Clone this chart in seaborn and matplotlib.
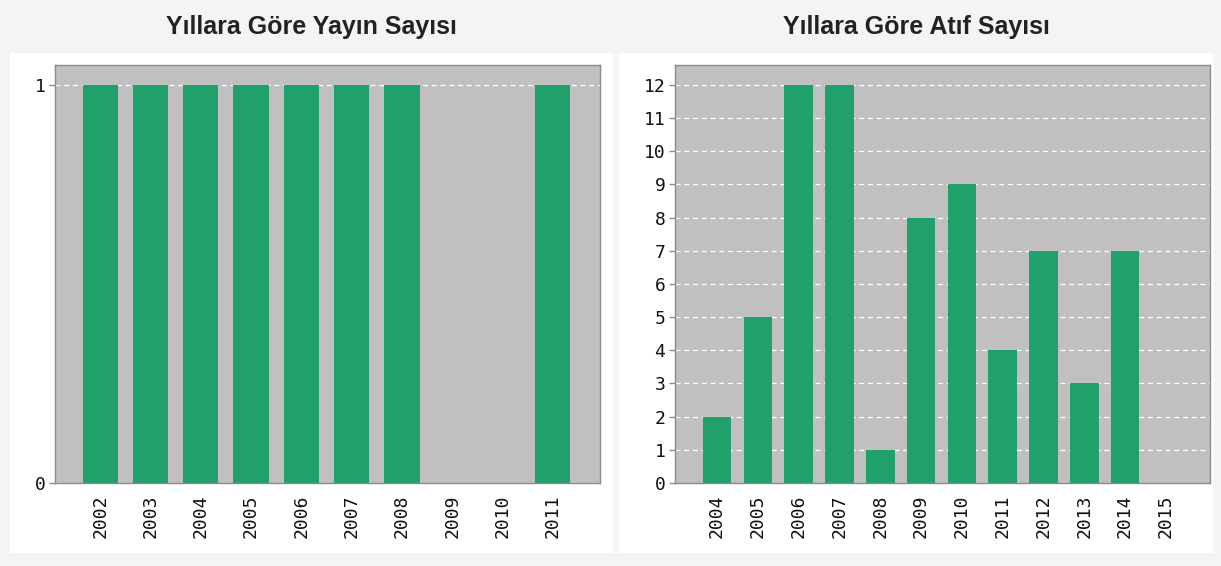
import matplotlib
matplotlib.use("Agg")
import matplotlib.pyplot as plt
import seaborn as sns
import pandas as pd
from matplotlib.patches import Rectangle

pub_years = ["2002", "2003", "2004", "2005", "2006", "2007", "2008", "2009", "2010", "2011"]
pub_counts = [1, 1, 1, 1, 1, 1, 1, 0, 0, 1]
cit_years = ["2004", "2005", "2006", "2007", "2008", "2009", "2010", "2011", "2012", "2013", "2014", "2015"]
cit_counts = [2, 5, 12, 12, 1, 8, 9, 4, 7, 3, 7, 0]
titles = ["Yıllara Göre Yayın Sayısı", "Yıllara Göre Atıf Sayısı"]

sns.set_theme(style="white")
plt.rcParams["font.family"] = ["DejaVu Sans"]

W, H = 1221, 566
fig = plt.figure(figsize=(W / 100, H / 100), dpi=100)
fig.patch.set_facecolor("#f3f5f5")

def fx(x):
    return x / W

def fy(y):
    return 1 - y / H

# white panels
for (x0, x1) in [(10, 613), (619, 1213)]:
    fig.patches.append(Rectangle((fx(x0), fy(553)), fx(x1 - x0), (553 - 53) / H,
                                 transform=fig.transFigure, facecolor="white",
                                 edgecolor="none", zorder=-5))

bar_color = "#22a06b"
grey = "#c0c0c0"

def make_axes(x0, x1):
    return fig.add_axes([fx(x0), fy(483), fx(x1 - x0), (483 - 65) / H])

ax1 = make_axes(55, 600)
ax2 = make_axes(675, 1210)

df1 = pd.DataFrame({"year": pub_years, "count": pub_counts})
df2 = pd.DataFrame({"year": cit_years, "count": cit_counts})

for ax, df, yt, xl, yl in [
    (ax1, df1, [0, 1], (-0.9, 9.94), (0, 1.05)),
    (ax2, df2, list(range(13)), (-1.03, 12.08), (0, 12.6)),
]:
    ax.set_zorder(1)
    ax.set_facecolor(grey)
    ax.set_axisbelow(True)
    ax.yaxis.grid(True, color="white", linestyle=(0, (4, 3)), linewidth=0.9)
    sns.barplot(data=df, x="year", y="count", color=bar_color, width=0.7,
                saturation=1, ax=ax, edgecolor="none", zorder=2)
    ax.set_xlim(*xl)
    ax.set_ylim(*yl)
    ax.set_yticks(yt)
    ax.set_xlabel("")
    ax.set_ylabel("")
    for s in ["left", "top", "right", "bottom"]:
        ax.spines[s].set_color("#8a8a8a")
        ax.spines[s].set_linewidth(1)
    ax.tick_params(axis="y", which="both", left=True, length=4, width=1, color="#8a8a8a",
                   labelsize=13, pad=3, labelcolor="#111111")
    ax.tick_params(axis="x", which="both", bottom=False, labelsize=13, pad=2,
                   labelcolor="#111111")
    for lab in ax.get_xticklabels():
        lab.set_rotation(90)
        lab.set_family("DejaVu Sans Mono")
    for lab in ax.get_yticklabels():
        lab.set_family("DejaVu Sans Mono")

for title, cx in zip(titles, [311, 916]):
    fig.text(fx(cx), fy(27), title, ha="center", va="center", fontsize=18,
             fontweight="bold", color="#222222", family=["Liberation Sans", "DejaVu Sans"])

fig.savefig("out.png", dpi=100, facecolor=fig.get_facecolor())
